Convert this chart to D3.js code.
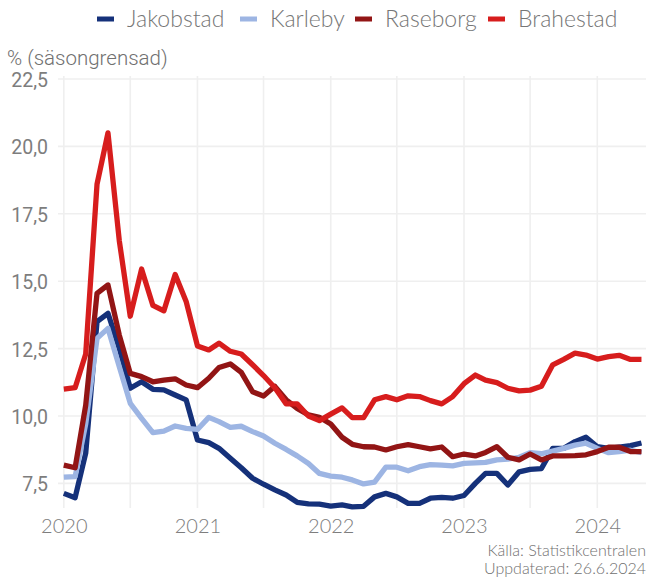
<!DOCTYPE html>
<html>
<head>
<meta charset="utf-8">
<script src="https://cdn.jsdelivr.net/npm/d3@7"></script>
<style>
  html, body { margin: 0; padding: 0; background: #fff; }
  svg { display: block; }
</style>
</head>
<body>
<svg id="chart" width="646" height="578"></svg>
<script>
// ---- data ----
const startMonth = "2020-01";
const seriesNames = ["Jakobstad", "Karleby", "Raseborg", "Brahestad"];
const seriesColors = ["#15317a", "#9db5e3", "#921515", "#d71d1d"];

const jakobstad = [7.13, 6.97, 8.62, 13.5, 13.81, 12.5, 11.03, 11.27, 10.99, 10.97, 10.78, 10.6,
  9.11, 9.01, 8.8, 8.43, 8.08, 7.69, 7.47, 7.26, 7.07, 6.8, 6.74, 6.73,
  6.66, 6.7, 6.63, 6.65, 7.0, 7.13, 7.0, 6.76, 6.76, 6.95, 6.98, 6.95,
  7.05, 7.5, 7.87, 7.87, 7.44, 7.93, 8.02, 8.05, 8.8, 8.8, 9.05, 9.21,
  8.86, 8.8, 8.85, 8.9, 9.0];
const karleby = [7.73, 7.75, 9.7, 12.88, 13.25, 11.83, 10.47, 9.91, 9.38, 9.44, 9.63, 9.54,
  9.5, 9.95, 9.79, 9.58, 9.62, 9.42, 9.26, 8.99, 8.76, 8.52, 8.24, 7.87,
  7.77, 7.73, 7.63, 7.48, 7.55, 8.1, 8.1, 7.97, 8.12, 8.2, 8.18, 8.15,
  8.24, 8.26, 8.28, 8.37, 8.4, 8.47, 8.64, 8.6, 8.7, 8.8, 8.92, 8.99,
  8.8, 8.64, 8.68, 8.73, 8.64];
const raseborg = [8.18, 8.08, 10.4, 14.55, 14.86, 13.0, 11.58, 11.46, 11.27, 11.33, 11.38, 11.15,
  11.05, 11.4, 11.8, 11.93, 11.62, 10.9, 10.74, 11.1, 10.6, 10.28, 10.04, 9.95,
  9.7, 9.21, 8.95, 8.86, 8.85, 8.74, 8.86, 8.94, 8.86, 8.78, 8.85, 8.49,
  8.59, 8.52, 8.65, 8.86, 8.47, 8.37, 8.59, 8.37, 8.52, 8.52, 8.53, 8.56,
  8.68, 8.84, 8.84, 8.68, 8.68];
const brahestad = [11.0, 11.05, 12.3, 18.6, 20.5, 16.5, 13.7, 15.45, 14.1, 13.9, 15.25, 14.25,
  12.6, 12.45, 12.7, 12.4, 12.3, 11.9, 11.5, 11.05, 10.45, 10.45, 10.0, 9.83,
  10.07, 10.3, 9.94, 9.94, 10.6, 10.72, 10.6, 10.75, 10.72, 10.57, 10.45, 10.72,
  11.2, 11.52, 11.33, 11.24, 11.03, 10.93, 10.96, 11.1, 11.9, 12.1, 12.33, 12.26,
  12.11, 12.2, 12.25, 12.1, 12.1];
const yTicks = [7.5, 10.0, 12.5, 15.0, 17.5, 20.0, 22.5];
const xTickYears = [2020, 2021, 2022, 2023, 2024];
const yTitle = "% (säsongrensad)";
const captionLines = ["Källa: Statistikcentralen", "Uppdaterad: 26.6.2024"];

// ---- build ----
const allValues = [jakobstad, karleby, raseborg, brahestad];
const [sy, sm] = startMonth.split("-").map(Number);
const dates = jakobstad.map((_, i) => new Date(sy, sm - 1 + i, 1));
const series = seriesNames.map((name, k) => ({
  name, color: seriesColors[k],
  values: allValues[k].map((v, i) => ({ date: dates[i], value: v }))
}));

const svg = d3.select("#chart");
const plotLeft = 58, plotRight = 646, plotTop = 76, plotBottom = 508;

const x = d3.scaleTime()
  .domain([new Date(2020, 0, 1), new Date(2024, 0, 1)])
  .range([63.8, 597.3]);
const y = d3.scaleLinear().domain([7.5, 22.5]).range([483.4, 79]);

// grid
const gridColor = "#efefef";
const halfYears = [];
for (let yr = 2020; yr <= 2024; yr++) {
  halfYears.push(new Date(yr, 0, 1));
  halfYears.push(new Date(yr, 6, 1));
}
svg.append("g").selectAll("line").data(halfYears.filter(d => x(d) <= plotRight)).join("line")
  .attr("x1", d => x(d)).attr("x2", d => x(d))
  .attr("y1", plotTop).attr("y2", plotBottom)
  .attr("stroke", gridColor).attr("stroke-width", 1.6);
svg.append("g").selectAll("line").data(yTicks).join("line")
  .attr("x1", plotLeft).attr("x2", plotRight)
  .attr("y1", d => y(d)).attr("y2", d => y(d))
  .attr("stroke", gridColor).attr("stroke-width", 1.6);

// axes (labels only)
const yAxis = d3.axisLeft(y).tickValues(yTicks)
  .tickFormat(d => d3.format(".1f")(d).replace(".", ","))
  .tickSize(0).tickPadding(0);
const gy = svg.append("g").attr("transform", "translate(48,0)").call(yAxis);
gy.select(".domain").remove();
gy.selectAll("text").attr("fill", "#7d7d7d")
  .style("font-family", "Roboto, 'Liberation Sans', sans-serif")
  .style("font-size", "19.5px").attr("dy", "0.38em");

const xAxis = d3.axisBottom(x).tickValues(xTickYears.map(yr => new Date(yr, 0, 1)))
  .tickFormat(d3.timeFormat("%Y")).tickSize(0).tickPadding(0);
const gx = svg.append("g").attr("transform", "translate(0,519)").call(xAxis);
gx.select(".domain").remove();
gx.selectAll("text").attr("fill", "#7d7d7d")
  .style("font-family", "Lato, 'Open Sans', sans-serif")
  .style("font-size", "20px").style("font-weight", 300).attr("dy", "0.71em");

// y title
svg.append("text").attr("x", 7).attr("y", 65).text(yTitle)
  .attr("fill", "#707070")
  .style("font-family", "Roboto, 'Liberation Sans', sans-serif")
  .style("font-size", "20.5px").style("font-weight", 300);

// lines
const line = d3.line().x(d => x(d.date)).y(d => y(d.value));
svg.append("g").selectAll("path").data(series).join("path")
  .attr("d", d => line(d.values))
  .attr("fill", "none").attr("stroke", d => d.color)
  .attr("stroke-width", 5.3).attr("stroke-linejoin", "round").attr("stroke-linecap", "butt");

// legend
const legendX = [97, 240, 355, 488];
const lg = svg.append("g").selectAll("g").data(series).join("g")
  .attr("transform", (d, i) => `translate(${legendX[i]},19)`);
lg.append("line").attr("x1", 0).attr("x2", 17).attr("y1", 0).attr("y2", 0)
  .attr("stroke", d => d.color).attr("stroke-width", 5);
lg.append("text").attr("x", 30).attr("y", 0).attr("dy", "0.35em").text(d => d.name)
  .attr("fill", "#767676")
  .style("font-family", "Lato, 'Open Sans', sans-serif")
  .style("font-size", "23px").style("font-weight", 300);

// caption
svg.append("g").selectAll("text").data(captionLines).join("text")
  .attr("x", 646).attr("y", (d, i) => 556 + i * 18)
  .attr("text-anchor", "end").text(d => d)
  .attr("fill", "#6f6f6f")
  .style("font-family", "Lato, 'Open Sans', sans-serif")
  .style("font-size", "16px").style("font-weight", 300);
</script>
</body>
</html>
